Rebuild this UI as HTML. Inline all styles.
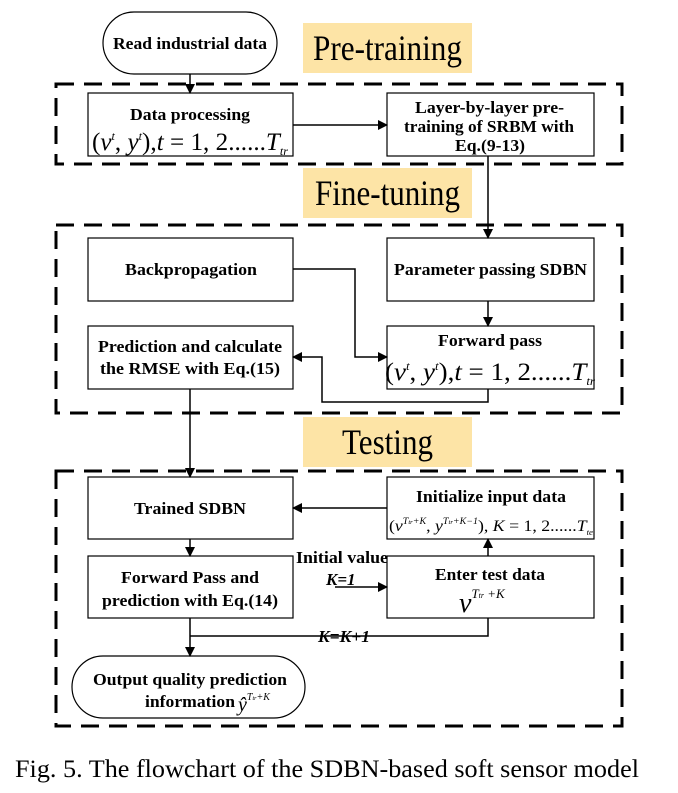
<!DOCTYPE html>
<html><head><meta charset="utf-8"><style>
body{margin:0;background:#fff;}
svg{display:block;}
.b{font-family:"Liberation Serif",serif;font-weight:bold;font-size:17px;}
.m{font-family:"Liberation Serif",serif;font-style:italic;}
.n{font-family:"Liberation Serif",serif;font-style:normal;}
.lab{font-family:"Liberation Serif",serif;font-size:36px;}
</style></head><body>
<svg width="678" height="793" viewBox="0 0 678 793" xmlns="http://www.w3.org/2000/svg">
<defs><marker id="a" markerWidth="10" markerHeight="10" refX="9" refY="5" orient="auto" markerUnits="userSpaceOnUse"><path d="M0,0 L10,5 L0,10 z" fill="#000"/></marker></defs>
<g fill="none" stroke="#000" stroke-width="3" stroke-dasharray="18,10">
<rect x="56" y="84" width="566" height="80"/>
<rect x="56" y="225" width="566" height="188"/>
<rect x="56" y="471" width="566" height="255"/>
</g>
<g fill="#fde4a6">
<rect x="303" y="23" width="169" height="50"/>
<rect x="303" y="168" width="169" height="50"/>
<rect x="303" y="417" width="169" height="50"/>
</g>
<text class="lab" x="313" y="60" textLength="149" lengthAdjust="spacingAndGlyphs">Pre-training</text>
<text class="lab" x="315" y="205" textLength="145" lengthAdjust="spacingAndGlyphs">Fine-tuning</text>
<text class="lab" x="342" y="454" textLength="91" lengthAdjust="spacingAndGlyphs">Testing</text>
<g fill="#fff" stroke="#000" stroke-width="1.2">
<rect x="103" y="12" width="174" height="62" rx="31"/>
<rect x="88" y="93" width="205" height="63"/>
<rect x="387" y="93" width="207" height="63"/>
<rect x="88" y="238" width="205" height="63"/>
<rect x="387" y="238" width="207" height="63"/>
<rect x="88" y="326" width="205" height="63"/>
<rect x="387" y="326" width="207" height="63"/>
<rect x="88" y="477" width="205" height="62"/>
<rect x="387" y="477" width="207" height="62"/>
<rect x="88" y="556" width="205" height="62"/>
<rect x="387" y="556" width="207" height="62"/>
<rect x="72" y="656" width="233" height="62" rx="31"/>
</g>
<g fill="none" stroke="#000" stroke-width="1.5">
<line x1="190" y1="74" x2="190" y2="93" marker-end="url(#a)"/>
<line x1="293" y1="125" x2="387" y2="125" marker-end="url(#a)"/>
<line x1="488" y1="156" x2="488" y2="238" marker-end="url(#a)"/>
<line x1="488" y1="301" x2="488" y2="326" marker-end="url(#a)"/>
<polyline points="293,269 355,269 355,357 387,357" marker-end="url(#a)"/>
<polyline points="488,389 488,402 322,402 322,357 293,357" marker-end="url(#a)"/>
<line x1="190" y1="389" x2="190" y2="477" marker-end="url(#a)"/>
<line x1="387" y1="508" x2="293" y2="508" marker-end="url(#a)"/>
<line x1="190" y1="539" x2="190" y2="556" marker-end="url(#a)"/>
<line x1="488" y1="556" x2="488" y2="539" marker-end="url(#a)"/>
<line x1="335" y1="587" x2="387" y2="587" marker-end="url(#a)"/>
<polyline points="488,618 488,636 190,636"/>
<line x1="190" y1="618" x2="190" y2="656" marker-end="url(#a)"/>
</g>
<text class="b" x="113" y="49" textLength="154" lengthAdjust="spacingAndGlyphs">Read industrial data</text>
<text class="b" x="130" y="120" textLength="120" lengthAdjust="spacingAndGlyphs">Data processing</text>
<text class="m" x="92" y="150" font-size="25" textLength="196" lengthAdjust="spacingAndGlyphs"><tspan class="n">(</tspan>v<tspan font-size="12" dy="-10">t</tspan><tspan dy="10" class="n">, </tspan>y<tspan font-size="12" dy="-10">t</tspan><tspan dy="10" class="n">),</tspan>t<tspan class="n"> = 1, 2......</tspan>T<tspan font-size="12" dy="5">tr</tspan></text>
<text class="b" x="415" y="113" textLength="149" lengthAdjust="spacingAndGlyphs">Layer-by-layer pre-</text>
<text class="b" x="404" y="132" textLength="170" lengthAdjust="spacingAndGlyphs">training of SRBM with</text>
<text class="b" x="455" y="151" textLength="70" lengthAdjust="spacingAndGlyphs">Eq.(9-13)</text>
<text class="b" x="125" y="275" textLength="132" lengthAdjust="spacingAndGlyphs">Backpropagation</text>
<text class="b" x="394" y="275" textLength="193" lengthAdjust="spacingAndGlyphs">Parameter passing SDBN</text>
<text class="b" x="98" y="352" textLength="184" lengthAdjust="spacingAndGlyphs">Prediction and calculate</text>
<text class="b" x="100" y="374" textLength="180" lengthAdjust="spacingAndGlyphs">the RMSE with Eq.(15)</text>
<text class="b" x="438" y="346" textLength="104" lengthAdjust="spacingAndGlyphs">Forward pass</text>
<text class="m" x="385" y="380" font-size="25" textLength="210" lengthAdjust="spacingAndGlyphs"><tspan class="n">(</tspan>v<tspan font-size="12" dy="-10">t</tspan><tspan dy="10" class="n">, </tspan>y<tspan font-size="12" dy="-10">t</tspan><tspan dy="10" class="n">),</tspan>t<tspan class="n"> = 1, 2......</tspan>T<tspan font-size="12" dy="5">tr</tspan></text>
<text class="b" x="134" y="514" textLength="112" lengthAdjust="spacingAndGlyphs">Trained SDBN</text>
<text class="b" x="416" y="502" textLength="150" lengthAdjust="spacingAndGlyphs">Initialize input data</text>
<text class="m" x="389" y="531" font-size="16" textLength="204" lengthAdjust="spacingAndGlyphs"><tspan class="n">(</tspan>v<tspan font-size="9" dy="-7">T<tspan font-size="6">tr</tspan>+K</tspan><tspan dy="7" class="n">, </tspan>y<tspan font-size="9" dy="-7">T<tspan font-size="6">tr</tspan>+K−1</tspan><tspan dy="7" class="n">), </tspan>K<tspan class="n"> = 1, 2......</tspan>T<tspan font-size="8" dy="4">te</tspan></text>
<text class="b" x="121" y="583" textLength="138" lengthAdjust="spacingAndGlyphs">Forward Pass and</text>
<text class="b" x="102" y="606" textLength="176" lengthAdjust="spacingAndGlyphs">prediction with Eq.(14)</text>
<text class="b" x="296" y="563" textLength="92" lengthAdjust="spacingAndGlyphs">Initial value</text>
<text class="b" x="326" y="585" font-style="italic">K=1</text>
<text class="b" x="435" y="580" textLength="110" lengthAdjust="spacingAndGlyphs">Enter test data</text>
<text class="m" x="459" y="612" font-size="28">v<tspan font-size="13" dy="-14">T<tspan font-size="8">tr</tspan> +K</tspan></text>
<text class="b" x="318" y="642" font-style="italic" textLength="52" lengthAdjust="spacingAndGlyphs">K=K+1</text>
<text class="b" x="93" y="685" textLength="194" lengthAdjust="spacingAndGlyphs">Output quality prediction</text>
<text class="b" x="145" y="707" textLength="90" lengthAdjust="spacingAndGlyphs">information</text>
<text class="m" x="238" y="711" font-size="20">ŷ<tspan font-size="10" dy="-11">T<tspan font-size="6">tr</tspan>+K</tspan></text>
<text x="15" y="777" font-family="Liberation Serif,serif" font-size="25" textLength="624" lengthAdjust="spacingAndGlyphs">Fig. 5. The flowchart of the SDBN-based soft sensor model</text>
</svg>
</body></html>
